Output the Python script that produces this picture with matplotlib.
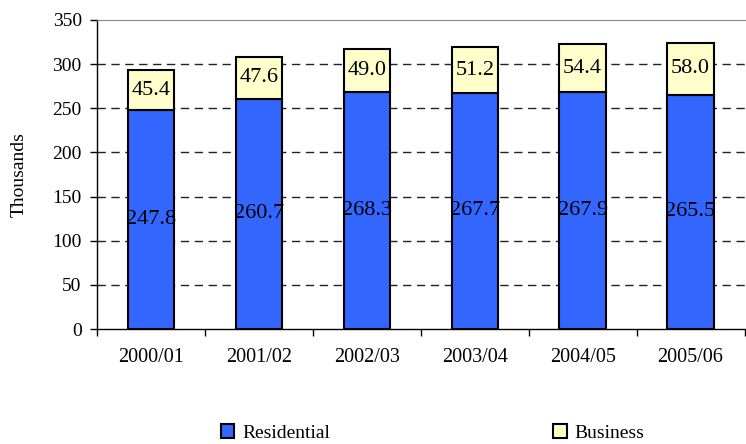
import matplotlib.pyplot as plt
import numpy as np

plt.rcParams['font.family'] = ['Liberation Serif', 'DejaVu Serif']

years = ['2000/01', '2001/02', '2002/03', '2003/04', '2004/05', '2005/06']
residential = [247.8, 260.7, 268.3, 267.7, 267.9, 265.5]
business = [45.4, 47.6, 49.0, 51.2, 54.4, 58.0]

fig = plt.figure(figsize=(7.46, 4.44), dpi=100)
ax = fig.add_axes([0.130, 0.259, 0.868, 0.696])

x = np.arange(len(years))
w = 0.43
b1 = ax.bar(x, residential, w, color='#3366FF', edgecolor='black', linewidth=1.5, label='Residential', zorder=3)
b2 = ax.bar(x, business, w, bottom=residential, color='#FFFFCC', edgecolor='black', linewidth=1.5, label='Business', zorder=3)

# value labels in the middle of each segment
for i in range(len(years)):
    ax.text(x[i], residential[i] / 2, f'{residential[i]:.1f}', ha='center', va='center', fontsize=16, zorder=4)
    ax.text(x[i], residential[i] + business[i] / 2, f'{business[i]:.1f}', ha='center', va='center', fontsize=16, zorder=4)

ax.set_xlim(-0.5, len(years) - 0.5)
ax.set_ylim(0, 350)
ax.set_yticks(range(0, 351, 50))
for v in range(50, 301, 50):
    ax.axhline(v, color='#222222', linestyle=(0, (6, 4)), linewidth=1, zorder=1)

ax.set_xticks(x)
ax.set_xticklabels(years, fontsize=14.5)
ax.set_xticks(np.arange(-0.5, len(years), 1), minor=True)
ax.tick_params(axis='x', which='major', length=0, pad=14)
ax.tick_params(axis='x', which='minor', length=5, width=1, direction='out')
ax.tick_params(axis='y', labelsize=14, length=5, width=1, direction='out', pad=6)
ax.set_ylabel('Thousands', fontsize=14, labelpad=18)

ax.spines['top'].set_color('#888888')
ax.spines['right'].set_visible(False)
ax.spines['left'].set_linewidth(1)
ax.spines['bottom'].set_linewidth(1)

fig.legend(handles=[b1, b2], labels=['Residential', 'Business'], loc='center',
           bbox_to_anchor=(0.58, 0.025), ncol=2, frameon=False, fontsize=14,
           handlelength=0.7, handleheight=0.7, handletextpad=0.4, columnspacing=11.5)

plt.savefig('out.png', dpi=100)
